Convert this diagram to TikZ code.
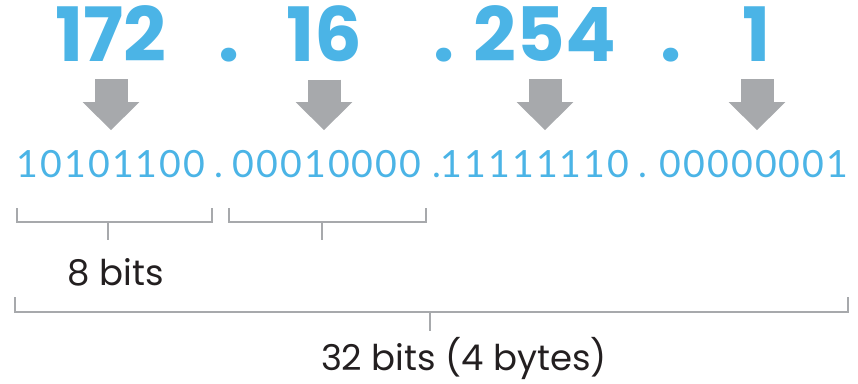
\documentclass[tikz,border=0pt]{standalone}
\usepackage{fontspec}
\setmainfont{Poppins}
\newfontfamily\numfont{Poppins}
\newfontfamily\bitfont{Lato}
\usetikzlibrary{arrows.meta}
\definecolor{ipblue}{HTML}{4BB4E6}
\definecolor{ipgray}{HTML}{A7A9AC}
\definecolor{labelblack}{HTML}{231F20}

\begin{document}
\begin{tikzpicture}[x=1pt,y=1pt,
  decnum/.style={inner sep=0,anchor=base,text=ipblue,font=\numfont\bfseries\fontsize{75}{75}\selectfont},
  bits/.style={inner sep=0,anchor=base,text=ipblue,font=\bitfont\fontsize{37.5}{38}\selectfont\addfontfeature{LetterSpace=5.6}},
  bigarrow/.style={ipgray,line width=33pt,-{Triangle[width=55pt,length=28pt]},shorten <=18pt,shorten >=19.5pt},
  brace/.style={ipgray,line width=2.6pt},
  caption/.style={inner sep=0,anchor=base,text=labelblack,font=\fontsize{35.5}{36}\selectfont}]
\useasboundingbox (0,0) rectangle (858,-383);
% decimal row
\node[decnum] (n172) at (111,-61) {172};
\node[decnum] (d1) at (229,-61) {.};
\node[decnum] (n16) at (324,-61) {16};
\node[decnum] (d2) at (444,-61) {.};
\node[decnum] (n254) at (545,-61) {254};
\node[decnum] (d3) at (671,-61) {.};
\node[decnum] (n1) at (757,-61) {1};
% binary row
\node[bits] (o1) at (111,-177) {10101100};
\node[bits] (p1) at (219,-177) {.};
\node[bits] (o2) at (327,-177) {00010000};
\node[bits] (p2) at (437,-177) {.};
\node[bits] (o3) at (535,-177) {11111110};
\node[bits] (p3) at (643,-177) {.};
\node[bits] (o4) at (754,-177) {00000001};
% arrows
\foreach \a/\b in {n172/o1,n16/o2,n254/o3,n1/o4}
  \draw[bigarrow] (\a.south) -- (\a.south |- \b.north);
% brackets
\draw[brace] (17,-208) -- (17,-222) -- (212,-222) -- (212,-208);
\draw[brace] (108,-222) -- (108,-240);
\draw[brace] (229,-208) -- (229,-222) -- (426,-222) -- (426,-208);
\draw[brace] (322,-222) -- (322,-240);
\draw[brace] (15,-297) -- (15,-312) -- (848,-312) -- (848,-297);
\draw[brace] (430,-312) -- (430,-331);
\node[caption] (lbl8) at (116,-285) {8 bits};
\node[caption] (lbl32) at (464,-370) {32 bits (4 bytes)};
\end{tikzpicture}
\end{document}
